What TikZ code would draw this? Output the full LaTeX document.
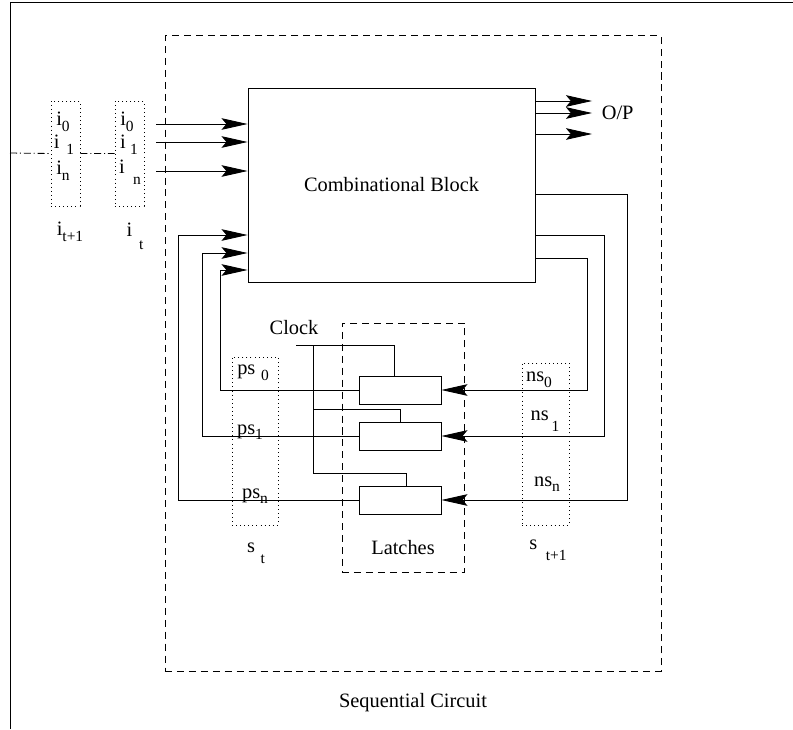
\documentclass[tikz,border=0pt]{standalone}
\usepackage{fontspec}
\setmainfont{Liberation Serif}
\usetikzlibrary{arrows.meta, positioning, calc}
\newcommand{\sub}[2][0.6ex]{\raisebox{-#1}{\fontsize{11}{12}\selectfont #2}}

\begin{document}
\begin{tikzpicture}[x=0.025cm, y=-0.025cm, line width=0.6pt,
    lbl/.style={font=\fontsize{14.5}{17}\selectfont, inner sep=1pt},
    dbox/.style={draw, dash pattern=on 5pt off 3.5pt, inner sep=0pt},
    dotbox/.style={draw, dash pattern=on 0.7pt off 2.2pt, inner sep=0pt},
    latch/.style={draw, minimum width=2.05cm, minimum height=0.7cm, inner sep=0pt},
    dashdot/.style={dash pattern=on 5pt off 2pt on 0.8pt off 2pt},
    arr/.style={-{Stealth[length=6.5mm, width=2.9mm, inset=1.2mm]}}]
  \useasboundingbox (0,0) rectangle (793,729);
  % frame
  \coordinate (fBot) at (10,729); \coordinate (fTop) at (10,2); \coordinate (fEnd) at (793,2);
  \draw (fBot) -- (fTop) -- (fEnd);

  % sequential circuit
  \node[dbox, minimum width=12.4cm, minimum height=15.875cm] (seq) at (413,353.5) {};
  \node[lbl, below=5mm of seq] (seqlbl) {Sequential Circuit};
  \node[draw, lbl, minimum width=7.175cm, minimum height=4.85cm] (comb) at (391.5,185) {Combinational Block};

  % inputs i_{t+1}, i_t
  \node[dotbox, minimum width=0.725cm, minimum height=2.625cm] (inA) at (65.5,153.5) {};
  \node[dotbox, minimum width=0.725cm, minimum height=2.625cm] (inB) at (129.5,153.5) {};
  \coordinate (fL) at (10,153);
  \draw[dashdot] (fL) -- (inA.west) (inA.east) -- (inB.west);
  \node[lbl] (a0) at (63,122) {i\sub{0}};
  \node[lbl] (a1) at (64,145) {i\hspace{5pt}\sub{1}};
  \node[lbl] (an) at (63,171) {i\sub{n}};
  \node[lbl] (b0) at (127,122) {i\sub{0}};
  \node[lbl] (b1) at (129,145) {i\hspace{3pt}\sub{1}};
  \node[lbl] (bn) at (130,172) {i\hspace{6pt}\sub[1.2ex]{n}};
  \node[lbl] (it1) at (70,232) {i\sub{t+1}};
  \node[lbl] (it) at (135,236) {i\hspace{5pt}\sub[1.4ex]{t}};
  \coordinate (p0) at (156,124); \coordinate (p1) at (156,142); \coordinate (pn) at (156,171);
  \foreach \c in {p0,p1,pn} \draw[arr] (\c) -- (comb.west |- \c);

  % outputs
  \coordinate (o0) at (592,101); \coordinate (o1) at (592,113); \coordinate (o2) at (592,134);
  \foreach \c in {o0,o1,o2} \draw[arr] (comb.east |- \c) -- (\c);
  \node[lbl, right=2mm of o1] (op) {O/P};

  % latches
  \node[latch] (l0) at (400,390) {};
  \node[latch] (l1) at (400,436) {};
  \node[latch] (ln) at (400,500) {};
  \node[dbox, minimum width=3.05cm, minimum height=6.225cm] (lbox) at (403,447.5) {};
  \node[lbl] (lt) at (403,548) {Latches};

  % clock
  \node[lbl] (clk) at (294,328) {Clock};
  \coordinate (ck) at (296,345); \coordinate (ck0) at (394,345);
  \coordinate (tr) at (313,345); \coordinate (tr1) at (313,409); \coordinate (trn) at (313,473);
  \draw (ck) -- (ck0) -- (ck0 |- l0.north);
  \draw (tr) -- (trn);
  \draw (tr1) -| (l1.north);
  \draw (trn) -| ($(ln.north)+(6,0)$);

  % state boxes
  \node[dotbox, minimum width=1.15cm, minimum height=4.2cm] (st) at (255,441) {};
  \node[dotbox, minimum width=1.175cm, minimum height=4.05cm] (snext) at (545.5,444) {};
  \node[lbl] (ps0) at (253,373) {ps\hspace{4pt}\sub{0}};
  \node[lbl] (ps1) at (250,432) {ps\sub{1}};
  \node[lbl] (psn) at (255,496) {ps\sub{n}};
  \node[lbl] (stl) at (256,553) {s\hspace{4pt}\sub[1.2ex]{t}};
  \node[lbl] (ns0) at (539,380) {ns\sub{0}};
  \node[lbl] (ns1) at (545,421) {ns\hspace{2pt}\sub[1.2ex]{1}};
  \node[lbl] (nsn) at (547,484) {ns\sub{n}};
  \node[lbl] (snl) at (548,550) {s\hspace{6pt}\sub[1.2ex]{t+1}};

  % feedback present state
  \coordinate (fb0) at (220,270); \coordinate (fb1) at (202,253); \coordinate (fbn) at (178,235);
  \draw[arr] (l0.west) -| (fb0) -- (comb.west |- fb0);
  \draw[arr] (l1.west) -| (fb1) -- (comb.west |- fb1);
  \draw[arr] (ln.west) -| (fbn) -- (comb.west |- fbn);

  % next state
  \coordinate (r0) at (587,258); \coordinate (r1) at (604,235); \coordinate (rn) at (627,194);
  \draw[arr] (comb.east |- r0) -- (r0) |- (l0.east);
  \draw[arr] (comb.east |- r1) -- (r1) |- (l1.east);
  \draw[arr] (comb.east |- rn) -- (rn) |- (ln.east);
\end{tikzpicture}
\end{document}
